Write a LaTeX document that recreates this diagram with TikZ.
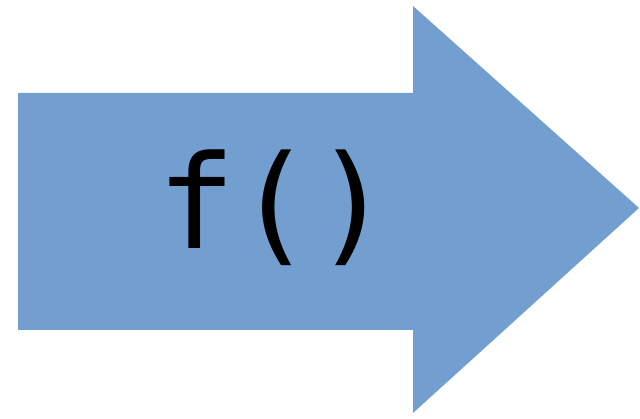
\documentclass[tikz,border=0pt]{standalone}
\usepackage{fontspec}
\setmonofont{DejaVu Sans Mono}
\usetikzlibrary{positioning}
\definecolor{arrowC}{HTML}{729FD0}
\definecolor{darkC}{HTML}{000000}

\begin{document}
\begin{tikzpicture}[
  x=1pt, y=1pt,
  arrowbody/.style={fill=arrowC, draw=none},
  funclabel/.style={font=\ttfamily\fontsize{130}{130}\selectfont, text=darkC,
    inner sep=0pt, outer sep=0pt, anchor=base west},
]
\useasboundingbox (0,0) rectangle (640,419);

% ── Big arrow ──
\fill[arrowbody]
  (18,326) -- (413,326) -- (413,413) -- (639,211)
  -- (413,6) -- (413,89) -- (18,89) -- cycle;

% ── Label ──
\node[funclabel] (func) at (157,170) {f()};

\end{tikzpicture}
\end{document}
